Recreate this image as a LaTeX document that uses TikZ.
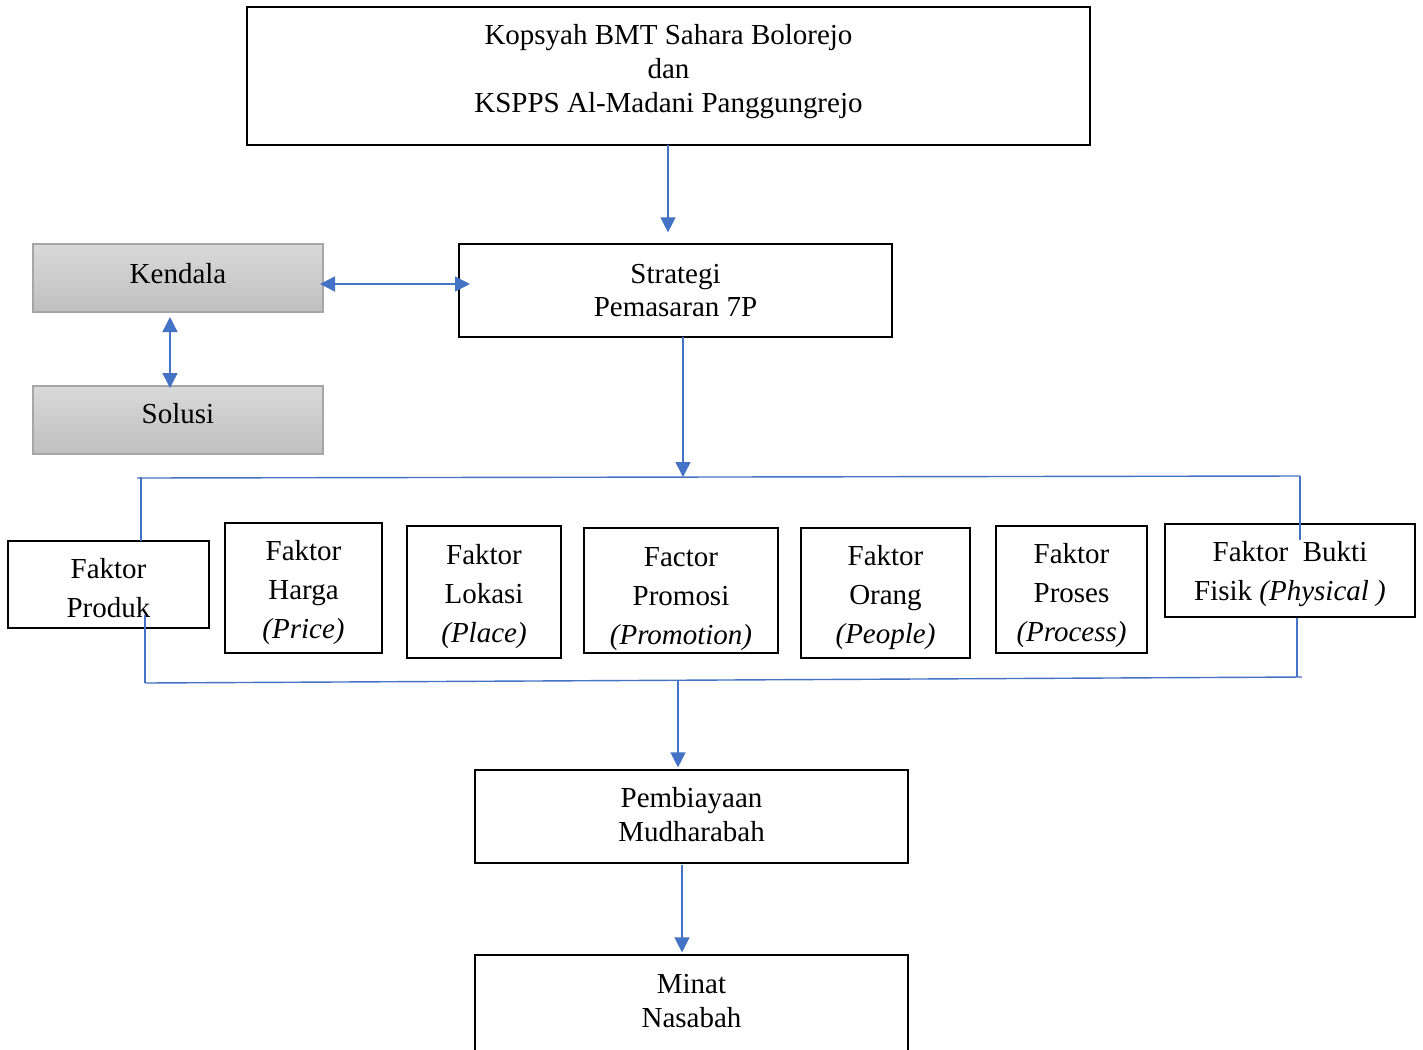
\documentclass[tikz,border=0pt]{standalone}
\usepackage{fontspec}
\setmainfont{Liberation Serif}
\usetikzlibrary{arrows.meta}

\begin{document}
\begin{tikzpicture}[x=0.02cm,y=-0.02cm,
	kotak/.style = {draw, line width=0.7pt, inner sep=0pt},
	abu/.style = {kotak, draw=black!35, top color=black!15, bottom color=black!25},
	teks/.style = {align=center, inner sep=0pt, font=\fontsize{16.5}{19.3}\selectfont},
	teksfaktor/.style = {teks, font=\fontsize{16.5}{22.2}\selectfont},
	isi/.style 2 args = {label={[teks, yshift=#1]center:{#2}}},
	isifaktor/.style 2 args = {label={[teksfaktor, yshift=#1]center:{#2}}},
	garis/.style = {line width=0.8pt, color={rgb,255:red,68;green,114;blue,196}},
	panah/.style = {garis, -{Triangle[width=0.3cm,length=0.3cm]}},
	duapanah/.style = {garis, {Triangle[width=0.3cm,length=0.3cm]}-{Triangle[width=0.3cm,length=0.3cm]}}]
	\useasboundingbox (0,0) rectangle (1423,1049);

	\node[kotak, minimum width=16.86cm, minimum height=2.76cm,
		isi={2.3pt}{Kopsyah BMT Sahara Bolorejo\\dan\\KSPPS Al-Madani Panggungrejo}] (atas) at (668.5,76) {};
	\node[kotak, minimum width=8.66cm, minimum height=1.86cm,
		isi={0pt}{Strategi\\Pemasaran 7P}] (strategi) at (675.5,290.5) {};
	\node[abu, minimum width=5.8cm, minimum height=1.36cm, isi={2.8pt}{Kendala}] (kendala) at (178,278) {};
	\node[abu, minimum width=5.8cm, minimum height=1.36cm, isi={3.4pt}{Solusi}] (solusi) at (178,420) {};

	\node[kotak, minimum width=4.02cm, minimum height=1.74cm,
		isifaktor={-2.3pt}{Faktor\\Produk}] (produk) at (108.5,584.5) {};
	\node[kotak, minimum width=3.14cm, minimum height=2.6cm,
		isifaktor={-2.8pt}{Faktor\\Harga\\\textit{(Price)}}] (harga) at (303.5,588) {};
	\node[kotak, minimum width=3.08cm, minimum height=2.64cm,
		isifaktor={-2.3pt}{Faktor\\Lokasi\\\textit{(Place)}}] (lokasi) at (484,592) {};
	\node[kotak, minimum width=3.88cm, minimum height=2.5cm,
		isifaktor={-5.1pt}{Factor\\Promosi\\\textit{(Promotion)}}] (promosi) at (681,590.5) {};
	\node[kotak, minimum width=3.38cm, minimum height=2.6cm,
		isifaktor={-2.8pt}{Faktor\\Orang\\\textit{(People)}}] (orang) at (885.5,593) {};
	\node[kotak, minimum width=3.02cm, minimum height=2.54cm,
		isifaktor={-3.4pt}{Faktor\\Proses\\\textit{(Process)}}] (proses) at (1071.5,589.5) {};
	\node[kotak, minimum width=5cm, minimum height=1.86cm,
		isifaktor={-2.3pt}{Faktor~ Bukti\\Fisik \textit{(Physical )}}] (bukti) at (1290,570.5) {};

	\node[kotak, minimum width=8.66cm, minimum height=1.86cm,
		isi={1.1pt}{Pembiayaan\\Mudharabah}] (pembiayaan) at (691.5,816.5) {};
	\node[kotak, minimum width=8.66cm, minimum height=1.92cm,
		isi={1.1pt}{Minat\\Nasabah}] (minat) at (691.5,1003) {};

	% garis bantu
	\coordinate (atasKiri) at (137,478);
	\coordinate (atasKanan) at (1300,476);
	\coordinate (atasTengah) at (683,477);
	\coordinate (bawahKiri) at (145,683);
	\coordinate (bawahKanan) at (1302,677);
	\coordinate (bawahTengah) at (678,681);
	\coordinate (turunA) at (668,145);
	\coordinate (turunB) at (683,337);
	\coordinate (turunC) at (682,865);

	\draw[panah, shorten >=0.22cm] (turunA) -- (turunA |- strategi.north);
	\draw[panah] (turunB) -- (atasTengah);
	\draw[garis] (atasKiri) -- (atasKanan);
	\draw[garis] (141,477) -- (141,541);
	\draw[garis] (atasKanan) -- ++(0,64);
	\draw[garis] (bawahKiri) -- (bawahKanan);
	\draw[garis] (bawahKiri) -- ++(0,-68);
	\draw[garis] (bukti.south -| 1297,0) -- (1297,677);
	\draw[panah, shorten >=0.04cm] (bawahTengah) -- (bawahTengah |- pembiayaan.north);
	\draw[panah, shorten >=0.04cm] (turunC) -- (turunC |- minat.north);

	\draw[duapanah] (320,284) -- (470,284);
	\draw[duapanah] (170,317) -- (170,388);
\end{tikzpicture}
\end{document}
